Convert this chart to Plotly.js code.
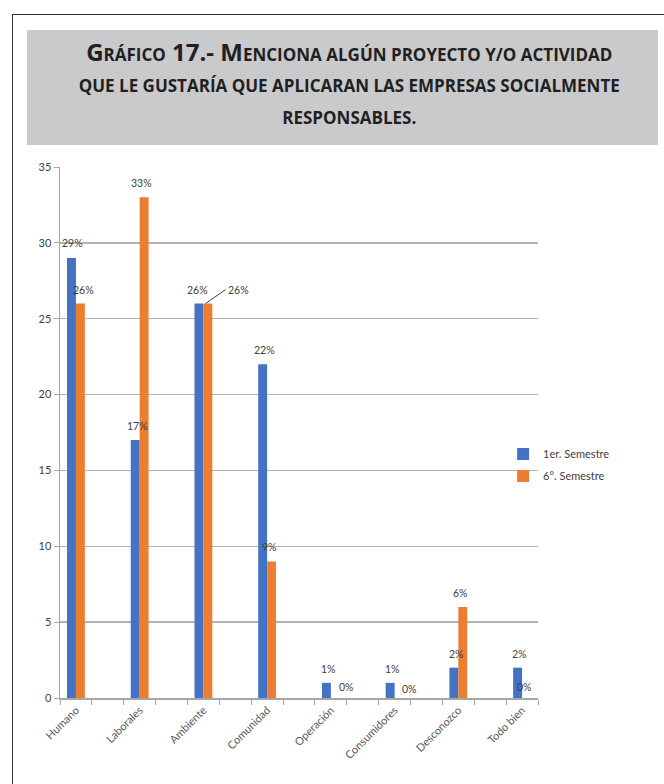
<!DOCTYPE html>
<html><head><meta charset="utf-8">
<script src="https://cdn.plot.ly/plotly-3.0.1.min.js"></script>
<style>
html,body{margin:0;padding:0;background:#fff;}
#frame{position:absolute;left:12px;top:14px;width:660px;height:780px;border-top:1.5px solid #333;border-left:1.5px solid #333;}
#band{position:absolute;left:27px;top:30px;width:631px;height:115px;background:#c9cacc;}
#chart{position:absolute;left:0;top:0;width:664px;height:784px;}
</style></head>
<body><div id="frame"></div><div id="band"></div><div id="chart"></div>
<script>
// ---- data ----
const categories = ['Humano','Laborales','Ambiente','Comunidad','Operación','Consumidores','Desconozco','Todo bien'];
const sem1 = [29, 17, 26, 22, 1, 1, 2, 2];
const sem6 = [26, 33, 26, 9, 0, 0, 6, 0];
const seriesNames = ['1er. Semestre', '6°. Semestre'];
const yTicks = [0, 5, 10, 15, 20, 25, 30, 35];

// ---- style ----
const COLORS = ['#4472C4', '#ED7D31'];
const FONT = 'Lato, "Open Sans", sans-serif';
const BARGAP = 0.72;
// pixel nudges for a few data labels [series-category]: [dx, dy]
const labelNudge = {'0-0':[-1,1], '1-0':[5,0], '0-2':[-4,0], '1-4':[13,-3], '1-5':[13,-5], '1-7':[0,-3]};
const arrowLabels = {'1-2': {ax: 20, ay: -14}};

const xpos = categories.map((c, i) => i * 2);
const boundaries = [];
for (let b = -0.5; b <= xpos[xpos.length - 1] + 0.5; b += 1) boundaries.push(b);

const series = [sem1, sem6];
const traces = series.map((vals, s) => ({
  type: 'bar', x: xpos, y: vals, name: seriesNames[s],
  marker: {color: COLORS[s]}, legendgroup: 'g' + s, hoverinfo: 'none'
}));

const off = (1 - BARGAP) / 2;
const annotations = [];
series.forEach((vals, s) => {
  vals.forEach((v, i) => {
    const key = s + '-' + i;
    const n = labelNudge[key] || [0, 0];
    const a = {
      x: xpos[i] + (s === 0 ? -off / 2 : off / 2), y: v, xref: 'x', yref: 'y',
      text: v + '%', showarrow: false, yanchor: 'bottom',
      xshift: n[0], yshift: 6 + n[1],
      font: {family: FONT, size: 10.5, color: '#404040'}
    };
    if (arrowLabels[key]) {
      a.showarrow = true; a.ax = arrowLabels[key].ax; a.ay = arrowLabels[key].ay;
      a.arrowhead = 0; a.arrowwidth = 1; a.arrowcolor = '#404040'; a.standoff = 0;
      a.yanchor = 'middle'; a.yshift = 0; a.xanchor = 'left';
    }
    annotations.push(a);
  });
});

const sc = (t) => '<span style="font-size:17px">' + t + '</span>';
const bg = (t) => '<span style="font-size:24px">' + t + '</span>';
const titleText = '<b>' + bg('G') + sc('RÁFICO') + bg(' 17.- M') + sc('ENCIONA ALGÚN PROYECTO Y/O ACTIVIDAD') +
  '<br>' + sc('QUE LE GUSTARÍA QUE APLICARAN LAS EMPRESAS SOCIALMENTE') +
  '<br>' + sc('RESPONSABLES.') + '</b>';

const layout = {
  width: 664, height: 784,
  paper_bgcolor: 'rgba(0,0,0,0)', plot_bgcolor: 'rgba(0,0,0,0)',
  margin: {l: 60, r: 126, t: 167, b: 86},
  font: {family: FONT, color: '#404040'},
  title: {
    text: titleText, xref: 'container', yref: 'container', x: 0.526, xanchor: 'center',
    y: 0.922, yanchor: 'top',
    font: {family: '"Open Sans", sans-serif', size: 24, color: '#231f20'}
  },
  barmode: 'group', bargap: BARGAP, bargroupgap: 0,
  xaxis: {
    range: [-0.5, xpos[xpos.length - 1] + 0.5],
    tickmode: 'array', tickvals: xpos, ticktext: categories, tickangle: -45,
    ticks: '', showgrid: false, zeroline: false,
    showline: true, linecolor: '#a6a6a6', linewidth: 1.5,
    tickfont: {family: FONT, size: 11, color: '#595959'},
    minor: {tickmode: 'array', tickvals: boundaries, ticks: 'outside', ticklen: 5, tickcolor: '#a6a6a6', tickwidth: 1, showgrid: false}
  },
  yaxis: {
    range: [0, 35], tickmode: 'array', tickvals: yTicks,
    showgrid: true, gridcolor: '#b3b3b3', gridwidth: 1.5, zeroline: false,
    showline: true, linecolor: '#a6a6a6', linewidth: 1.5,
    ticks: 'outside', ticklen: 5, tickcolor: '#a6a6a6',
    tickfont: {family: FONT, size: 11, color: '#404040'}
  },
  legend: {
    x: 0.927, xanchor: 'left', y: 0.487, yanchor: 'top',
    bgcolor: 'rgba(0,0,0,0)', tracegroupgap: 3,
    font: {family: FONT, size: 11, color: '#404040'}
  },
  annotations: annotations,
  showlegend: true
};

Plotly.newPlot('chart', traces, layout, {displayModeBar: false, staticPlot: true});
</script>
</body></html>
